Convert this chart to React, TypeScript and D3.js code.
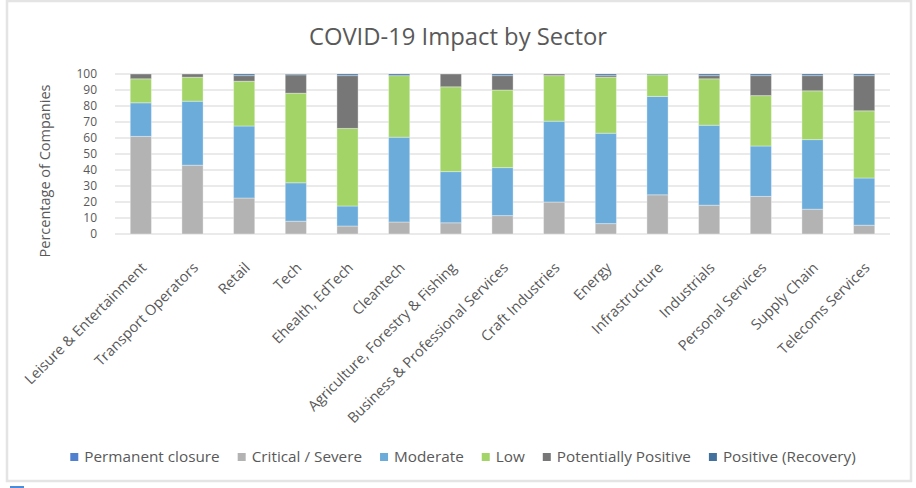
import React, { useEffect, useRef } from 'react';
import * as d3 from 'd3';

const sectors = [
  'Leisure & Entertainment',
  'Transport Operators',
  'Retail',
  'Tech',
  'Ehealth, EdTech',
  'Cleantech',
  'Agriculture, Forestry & Fishing',
  'Business & Professional Services',
  'Craft Industries',
  'Energy',
  'Infrastructure',
  'Industrials',
  'Personal Services',
  'Supply Chain',
  'Telecoms Services',
];

const permanentClosure = [0, 0, 0, 0, 0, 0, 0, 0, 0, 0, 0, 0, 0, 0, 0];
const critical = [61, 43, 22.5, 8, 5, 7.5, 7, 11.5, 20, 6.5, 24.5, 18, 23.5, 15.5, 5.5];
const moderate = [21, 40, 45, 24, 12.5, 53, 32, 30, 50.5, 56.5, 61.5, 50, 31.5, 43.5, 29.5];
const low = [15, 15, 28, 56, 48.5, 38.5, 53, 48.5, 28.5, 35, 13.5, 29, 31.5, 30.5, 42];
const potentiallyPositive = [3, 2, 3.5, 11.5, 33, 0, 8, 9, 1, 1, 0, 2, 12.5, 9.5, 22];
const positive = [0, 0, 1, 0.5, 1, 1, 0, 1, 0, 1, 0.5, 1, 1, 1, 1];

const seriesNames = ['Permanent closure', 'Critical / Severe', 'Moderate', 'Low', 'Potentially Positive', 'Positive (Recovery)'];
const seriesValues = [permanentClosure, critical, moderate, low, potentiallyPositive, positive];
const seriesColors = ['#4F81CF', '#B3B3B3', '#6CACDB', '#A3D468', '#777777', '#41719C'];

const yTicks = [0, 10, 20, 30, 40, 50, 60, 70, 80, 90, 100];

const FONT = '"Open Sans", "Noto Sans", sans-serif';
const TEXT = '#595959';

export default function App() {
  const svgRef = useRef<SVGSVGElement>(null);

  useEffect(() => {
    document.body.style.margin = '0';
    if (!svgRef.current) return;
    const svg = d3.select(svgRef.current);
    svg.selectAll('*').remove();

    const width = 916;
    const height = 488;

    svg.attr('width', width).attr('height', height).style('font-family', FONT);

    // chart frame
    svg.append('rect')
      .attr('x', 7).attr('y', 1)
      .attr('width', 904).attr('height', 480)
      .attr('fill', 'white')
      .attr('stroke', '#E4E4E4')
      .attr('stroke-width', 2.5);

    svg.append('rect')
      .attr('x', 10).attr('y', 486)
      .attr('width', 14).attr('height', 2)
      .attr('fill', '#4A8BDB');

    // title
    svg.append('text')
      .attr('x', 458).attr('y', 45)
      .attr('text-anchor', 'middle')
      .style('font-size', '23.8px')
      .style('fill', TEXT)
      .text('COVID-19 Impact by Sector');

    const x = d3.scaleBand<string>()
      .domain(sectors)
      .range([115, 890])
      .paddingInner(0.59)
      .paddingOuter(0.295);

    const y = d3.scaleLinear().domain([0, 100]).range([234, 74]);

    // gridlines
    svg.append('g')
      .selectAll('line')
      .data(yTicks)
      .enter()
      .append('line')
      .attr('x1', 115).attr('x2', 890)
      .attr('y1', d => y(d)).attr('y2', d => y(d))
      .attr('stroke', '#E3E3E3')
      .attr('stroke-width', 1.5);

    // y tick labels
    svg.append('g')
      .selectAll('text')
      .data(yTicks)
      .enter()
      .append('text')
      .attr('x', 97)
      .attr('y', d => y(d))
      .attr('dy', '0.35em')
      .attr('text-anchor', 'end')
      .style('font-size', '12px')
      .style('fill', TEXT)
      .text(d => d);

    // y axis title
    svg.append('text')
      .attr('transform', 'translate(50,171) rotate(-90)')
      .attr('text-anchor', 'middle')
      .style('font-size', '14.5px')
      .style('fill', TEXT)
      .text('Percentage of Companies');

    // stacked bars
    const rows = sectors.map((s, i) => {
      const row: Record<string, any> = { sector: s };
      seriesNames.forEach((n, k) => { row[n] = seriesValues[k][i]; });
      return row;
    });
    const stack = d3.stack<any>().keys(seriesNames);
    const layers = stack(rows);

    svg.append('g')
      .selectAll('g')
      .data(layers)
      .enter()
      .append('g')
      .attr('fill', (_d, i) => seriesColors[i])
      .selectAll('rect')
      .data(d => d.filter(p => p[1] - p[0] > 0))
      .enter()
      .append('rect')
      .attr('x', (d: any) => x(d.data.sector) as number)
      .attr('width', x.bandwidth())
      .attr('y', d => y(d[1]))
      .attr('height', d => y(d[0]) - y(d[1]))
      .attr('stroke', 'rgba(255,255,255,0.35)')
      .attr('stroke-width', 1);

    // x labels
    svg.append('g')
      .selectAll('text')
      .data(sectors)
      .enter()
      .append('text')
      .attr('transform', d => `translate(${(x(d) as number) + x.bandwidth() / 2 + 3},${265}) rotate(-45)`)
      .attr('text-anchor', 'end')
      .attr('dy', '0.35em')
      .style('font-size', '14.5px')
      .style('fill', TEXT)
      .text(d => d);

    // legend
    const legend = svg.append('g');
    const items = seriesNames.map((n, i) => {
      const g = legend.append('g');
      g.append('rect')
        .attr('width', 8).attr('height', 8)
        .attr('y', -4)
        .attr('fill', seriesColors[i]);
      const t = g.append('text')
        .attr('x', 14)
        .attr('dy', '0.35em')
        .style('font-size', '15.3px')
        .style('fill', TEXT)
        .text(n);
      const w = (t.node() as SVGTextElement).getComputedTextLength();
      return { g, w: 14 + w };
    });
    const gap = 18;
    const total = d3.sum(items, d => d.w) + gap * (items.length - 1);
    let cx = 463 - total / 2;
    items.forEach(it => {
      it.g.attr('transform', `translate(${cx},457)`);
      cx += it.w + gap;
    });
  }, []);

  return <svg ref={svgRef} />;
}
